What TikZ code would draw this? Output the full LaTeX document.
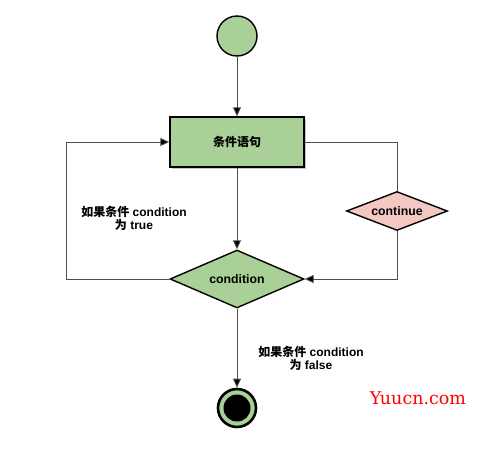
\documentclass[tikz,border=0pt]{standalone}
\usepackage{fontspec}
\setmainfont{Liberation Sans}
\newfontfamily\cjk{Noto Sans CJK SC}
\newfontfamily\wmfont{DejaVu Serif}
\usetikzlibrary{shapes.geometric,arrows.meta}

\definecolor{flowgreen}{RGB}{169,208,150}
\definecolor{flowpink}{RGB}{244,199,195}
\definecolor{wirecol}{RGB}{80,80,80}

\tikzset{
  box/.style={draw=black,line width=1.4pt,fill=flowgreen,minimum width=134pt,minimum height=50pt,inner sep=0pt,font=\bfseries\cjk\fontsize{12}{13}\selectfont},
  test/.style={diamond,aspect=2.4,draw=black,line width=1.4pt,inner sep=0pt,font=\bfseries\fontsize{12.3}{13}\selectfont},
  wire/.style={draw=wirecol,line width=0.9pt},
  arr/.style={wire,-{Triangle[length=9pt,width=8pt,fill=black]}},
  note/.style={align=center,font=\bfseries\fontsize{12}{13}\selectfont}
}

\begin{document}
\begin{tikzpicture}[x=1pt,y=-1pt]
\useasboundingbox (0,0) rectangle (480,453);
% start and stop
\node (start) [circle,draw=black,line width=1.4pt,fill=flowgreen,minimum size=40pt,inner sep=0pt] at (237,36) {};
\node (stop) [circle,draw=black,line width=2.6pt,fill=flowgreen,minimum size=38pt,inner sep=0pt] at (237,408) {};
\fill[black] (stop.center) circle (13.5);
% statement box with its shadow
\fill[gray!45] (172,119) rectangle (306,169);
\node (stmt) [box] at (237,142) {条件语句};
% tests
\node (cond) [test,fill=flowgreen,minimum width=134pt,minimum height=58pt] at (237,279) {condition};
\node (cont) [test,fill=flowpink,minimum width=101pt,minimum height=39pt] at (397,211) {continue};
% bends
\coordinate (lowleft) at (66,279);
\coordinate (upleft) at (66,142);
\coordinate (upright) at (cont.north |- stmt.east);
\coordinate (lowright) at (cont.south |- cond.east);
% connectors
\draw[arr] (start) -- (stmt);
\draw[arr] (stmt) -- (cond);
\draw[arr] (cond.west) -- (lowleft) -- (upleft) -- (stmt.west);
\draw[wire] (stmt.east) -- (upright) -- (cont.north);
\draw[arr] (cont.south) -- (lowright) -- (cond.east);
\draw[arr] (cond.south) -- (stop.north);
% labels
\node (truenote) [note] at (134,218) {{\cjk 如果条件} condition\\{\cjk 为} true};
\node (falsenote) [note] at (311,358) {{\cjk 如果条件} condition\\{\cjk 为} false};
\node (mark) [text=red,font=\wmfont\fontsize{17.5}{18}\selectfont] at (418,398) {Yuucn.com};
\end{tikzpicture}
\end{document}
